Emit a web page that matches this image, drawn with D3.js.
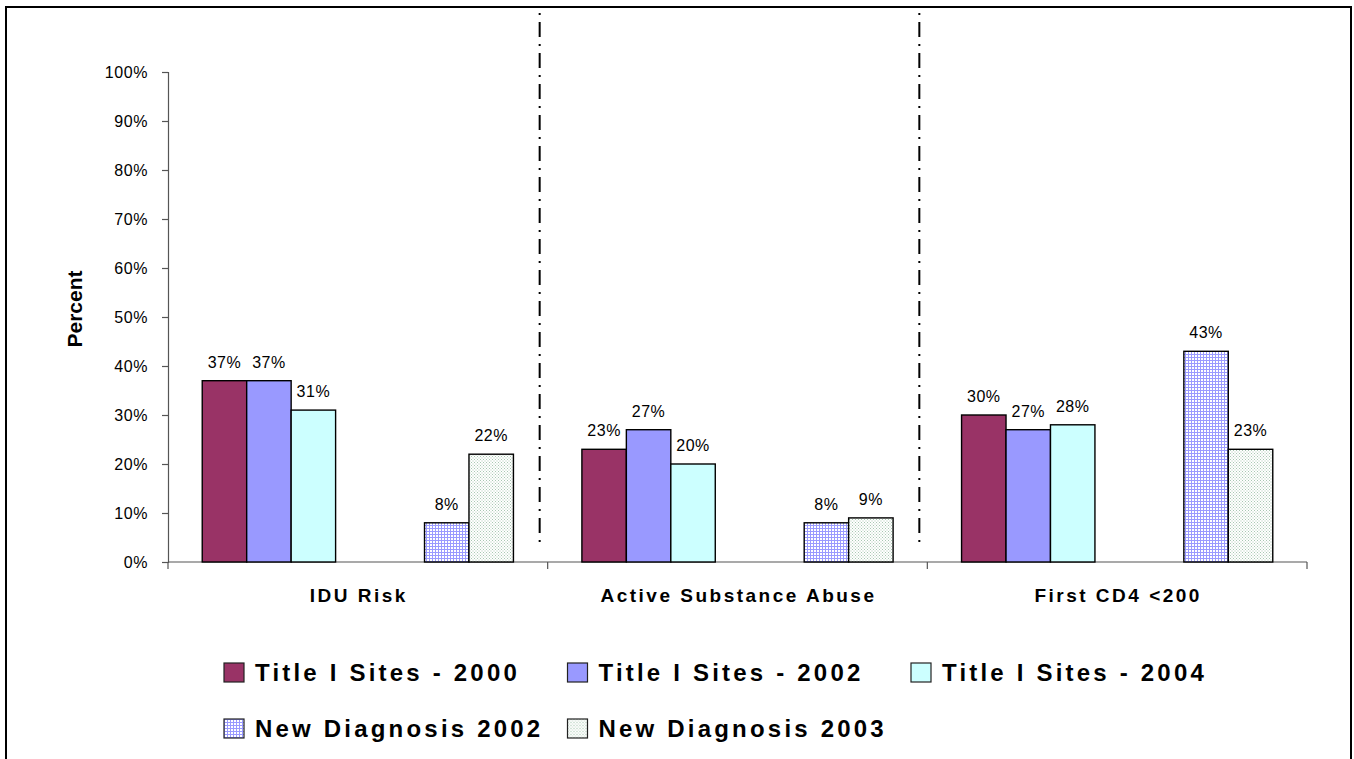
<!DOCTYPE html>
<html>
<head>
<meta charset="utf-8">
<script src="https://cdn.jsdelivr.net/npm/d3@7"></script>
<style>
  html, body { margin: 0; padding: 0; background: #fff; }
  svg { display: block; font-family: "Liberation Sans", Arial, sans-serif; }
</style>
</head>
<body>
<svg id="chart" width="1354" height="759"></svg>
<script>
// Categories along the x axis
const categories = ["IDU Risk", "Active Substance Abuse", "First CD4 <200"];

// Series names (legend order)
const seriesNames = [
  "Title I Sites - 2000",
  "Title I Sites - 2002",
  "Title I Sites - 2004",
  "New Diagnosis 2002",
  "New Diagnosis 2003"
];

// Percent values per series, one per category
const titleSites2000 = [37, 23, 30];
const titleSites2002 = [37, 27, 27];
const titleSites2004 = [31, 20, 28];
const newDiagnosis2002 = [8, 8, 43];
const newDiagnosis2003 = [22, 9, 23];

// Y axis tick values (percent)
const yTicks = [0, 10, 20, 30, 40, 50, 60, 70, 80, 90, 100];

const seriesValues = [titleSites2000, titleSites2002, titleSites2004, newDiagnosis2002, newDiagnosis2003];

// Bar slots within a category: three site series, two empty slots, then the diagnosis series
const barSlots = [seriesNames[0], seriesNames[1], seriesNames[2], "gap-a", "gap-b", seriesNames[3], seriesNames[4]];

const svg = d3.select("#chart");
const defs = svg.append("defs");

// Fine blue grid fill
const grid = defs.append("pattern")
  .attr("id", "gridFill").attr("patternUnits", "userSpaceOnUse")
  .attr("width", 3).attr("height", 3);
grid.append("rect").attr("width", 3).attr("height", 3).attr("fill", "#ffffff");
grid.append("rect").attr("x", 0).attr("y", 0).attr("width", 3).attr("height", 1).attr("fill", "#9a9aff");
grid.append("rect").attr("x", 0).attr("y", 0).attr("width", 1).attr("height", 3).attr("fill", "#9a9aff");

// Pale green dotted fill
const dots = defs.append("pattern")
  .attr("id", "dotFill").attr("patternUnits", "userSpaceOnUse")
  .attr("width", 3).attr("height", 3);
dots.append("rect").attr("width", 3).attr("height", 3).attr("fill", "#ffffff");
dots.append("rect").attr("x", 0).attr("y", 0).attr("width", 1).attr("height", 1).attr("fill", "#a8c8b2");
dots.append("rect").attr("x", 1.5).attr("y", 1.5).attr("width", 1).attr("height", 1).attr("fill", "#a8c8b2");

const fills = {};
fills[seriesNames[0]] = "#993366";
fills[seriesNames[1]] = "#9999ff";
fills[seriesNames[2]] = "#ccffff";
fills[seriesNames[3]] = "url(#gridFill)";
fills[seriesNames[4]] = "url(#dotFill)";

// Outer frame
svg.append("rect")
  .attr("x", 6).attr("y", 7).attr("width", 1345).attr("height", 800)
  .attr("fill", "none").attr("stroke", "#000").attr("stroke-width", 2);

const plot = { left: 168, right: 1307, top: 72, bottom: 562 };

const x0 = d3.scaleBand().domain(categories).range([plot.left, plot.right]).padding(0);
const x1 = d3.scaleBand().domain(barSlots).range([0, x0.bandwidth()]).paddingInner(0).paddingOuter(0.77);
const y = d3.scaleLinear().domain([0, 100]).range([plot.bottom, plot.top]);

// Dash-dot separators between category groups
const separators = [categories[0], categories[1]];
svg.append("g").selectAll("line").data(separators).join("line")
  .attr("x1", d => x0(d) + x0.bandwidth() - 8)
  .attr("x2", d => x0(d) + x0.bandwidth() - 8)
  .attr("y1", 13).attr("y2", 548)
  .attr("stroke", "#000").attr("stroke-width", 2)
  .attr("stroke-dasharray", "2,7,15,7");

// Y axis
const yAxis = d3.axisLeft(y).tickValues(yTicks).tickFormat(d => d + "%").tickSize(6).tickPadding(14);
const gy = svg.append("g").attr("transform", `translate(${plot.left},0)`).call(yAxis);
gy.select(".domain").attr("stroke", "#555").attr("stroke-width", 1.2);
gy.selectAll(".tick line").attr("stroke", "#555").attr("stroke-width", 1.2);
gy.selectAll(".tick text")
  .attr("font-family", "'Liberation Sans', Arial, sans-serif")
  .attr("font-size", 16).attr("fill", "#000")
  .style("letter-spacing", "0.6px");

// X axis with group boundary ticks
const gx = svg.append("g").attr("transform", `translate(0,${plot.bottom})`);
gx.append("line")
  .attr("x1", plot.left).attr("x2", plot.right)
  .attr("stroke", "#555").attr("stroke-width", 1.2);
const boundaries = categories.map(c => x0(c)).concat([x0(categories[categories.length - 1]) + x0.bandwidth()]);
gx.selectAll("line.bnd").data(boundaries).join("line").attr("class", "bnd")
  .attr("x1", d => d).attr("x2", d => d).attr("y1", 0).attr("y2", 7)
  .attr("stroke", "#555").attr("stroke-width", 1.2);
gx.selectAll("text").data(categories).join("text")
  .attr("x", d => x0(d) + x0.bandwidth() / 2 + 1)
  .attr("y", 40)
  .attr("text-anchor", "middle")
  .attr("font-size", 19).attr("font-weight", "bold")
  .style("letter-spacing", "2.5px")
  .text(d => d);

// Y axis title
svg.append("text")
  .attr("transform", "translate(82,309) rotate(-90)")
  .attr("text-anchor", "middle")
  .attr("font-size", 21).attr("font-weight", "bold")
  .text("Percent");

// Bars
const barData = [];
seriesNames.forEach((s, si) => {
  categories.forEach((c, ci) => {
    barData.push({ series: s, category: c, value: seriesValues[si][ci] });
  });
});

const bars = svg.append("g");
bars.selectAll("rect").data(barData).join("rect")
  .attr("x", d => x0(d.category) + x1(d.series))
  .attr("y", d => y(d.value))
  .attr("width", x1.bandwidth())
  .attr("height", d => y(0) - y(d.value))
  .attr("fill", d => fills[d.series])
  .attr("stroke", "#000").attr("stroke-width", 1.4);

// Value labels
bars.selectAll("text").data(barData).join("text")
  .attr("x", d => x0(d.category) + x1(d.series) + x1.bandwidth() / 2)
  .attr("y", d => y(d.value) - 13)
  .attr("text-anchor", "middle")
  .attr("font-size", 16)
  .style("letter-spacing", "0.5px")
  .text(d => d.value + "%");

// Legend: three items per row
const legend = svg.append("g");
const legendItems = legend.selectAll("g").data(seriesNames).join("g")
  .attr("transform", (d, i) => `translate(${224 + (i % 3) * 343.5},${663 + Math.floor(i / 3) * 56})`);
legendItems.append("rect")
  .attr("width", 20).attr("height", 19)
  .attr("fill", d => fills[d])
  .attr("stroke", "#222").attr("stroke-width", 1.2);
legendItems.append("text")
  .attr("x", 31).attr("y", 18)
  .attr("font-size", 24).attr("font-weight", "bold")
  .style("letter-spacing", "3.2px")
  .text(d => d);
</script>
</body>
</html>
